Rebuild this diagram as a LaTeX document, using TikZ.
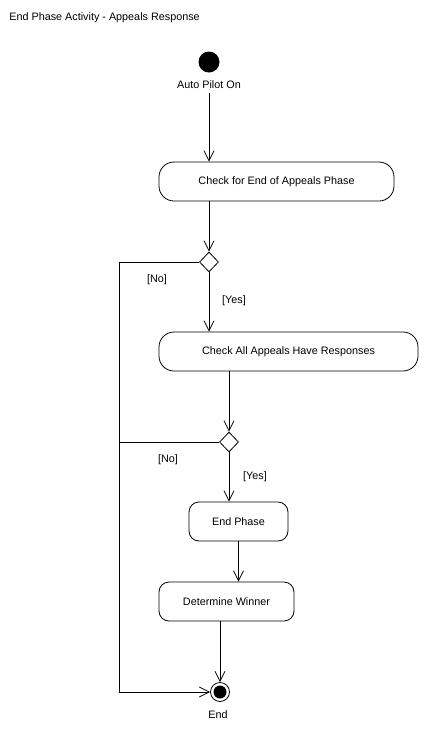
\documentclass[tikz,border=0pt]{standalone}
\usepackage{fontspec}
\setmainfont{Liberation Sans}
\usetikzlibrary{arrows.meta,shapes.geometric}
\tikzset{flow/.style={-{Straight Barb[length=10pt,width=10pt]}},
    activity/.style={draw,rectangle,rounded corners=15pt,minimum height=39pt,inner sep=0pt},
    smallactivity/.style={activity,rounded corners=10pt},
    decision/.style={draw,diamond,minimum width=19pt,minimum height=20pt,inner sep=0pt},
    txt/.style={inner sep=0pt,font=\fontsize{10.8}{13}\selectfont}
}

\begin{document}
\begin{tikzpicture}[x=1pt,y=-1pt,line width=0.8pt,every node/.style={font=\fontsize{10.8}{13}\selectfont}]
      \useasboundingbox (0,0) rectangle (430,732);
      \node[txt,anchor=west] (title) at (9,18) {End Phase Activity - Appeals Response};
      \node[circle,fill,minimum size=21pt,inner sep=0pt] (start) at (209,62) {};
      \node[txt] (startlbl) at (209,85) {Auto Pilot On};
      \node[activity,minimum width=235pt] (check1) at (276.5,181.5) {Check for End of Appeals Phase};
      \node[decision] (dec1) at (209,262) {};
      \node[activity,minimum width=259pt] (check2) at (288.5,351.5) {Check All Appeals Have Responses};
      \node[decision] (dec2) at (229,442) {};
      \node[smallactivity,minimum width=99pt] (endphase) at (238.5,521.5) {End Phase};
      \node[smallactivity,minimum width=135pt] (winner) at (226.5,601.5) {Determine Winner};
      \node[draw,circle,minimum size=19pt,inner sep=0pt] (finish) at (220,692) {};
      \fill (finish) circle (6.5);
      \node[txt] (finishlbl) at (218,715) {End};
      \coordinate (corner) at (119,692);
      % connectors
      \draw[flow] (startlbl.south) ++(0,4) -- (startlbl.south |- check1.north);
      \draw[flow] (dec1 |- check1.south) -- (dec1.north);
      \draw[flow] (dec1.south) -- (dec1 |- check2.north);
      \draw[flow] (dec2 |- check2.south) -- (dec2.north);
      \draw[flow] (dec2.south) -- (dec2 |- endphase.north);
      \draw[flow] (endphase.south) -- (endphase.south |- winner.north);
      \draw[flow] (finish |- winner.south) -- (finish.north);
      \draw[flow] (dec1.west) -- (corner |- dec1) -- (corner) -- (finish.west);
      \draw (dec2.west) -- (corner |- dec2);
      % guards
      \node[txt] (no1) at (157,280) {[No]};
      \node[txt] (yes1) at (234,301) {[Yes]};
      \node[txt] (no2) at (168,460) {[No]};
      \node[txt] (yes2) at (255,477) {[Yes]};
    \end{tikzpicture}
\end{document}
